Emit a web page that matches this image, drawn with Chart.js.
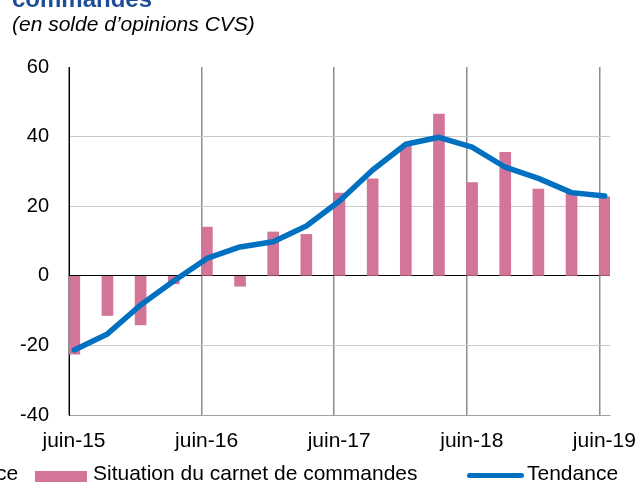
<!DOCTYPE html>
<html>
<head>
<meta charset="utf-8">
<script src="https://cdn.jsdelivr.net/npm/chart.js@4"></script>
<style>
  html, body { margin: 0; padding: 0; background: #fff; }
  #wrap { position: relative; width: 638px; height: 484px; overflow: hidden; font-family: "Liberation Sans", Arial, sans-serif; }
  #c { position: absolute; left: 0; top: 0; }
  .t { position: absolute; white-space: nowrap; color: #000; }
</style>
</head>
<body>
<div id="wrap">
  <canvas id="c" width="638" height="484"></canvas>
  <div class="t" style="left:12px; top:-13px; font-size:24px; line-height:24px; font-weight:bold; color:#1F4E99;">commandes</div>
  <div class="t" style="left:12px; top:13px; font-size:21px; line-height:21px; font-style:italic;">(en solde d’opinions CVS)</div>
  <div class="t" style="left:-4px; top:462px; font-size:21px; line-height:21px;">ce</div>
  <div style="position:absolute; left:35px; top:471px; width:52px; height:11px; background:#D37499;"></div>
  <div class="t" style="left:93px; top:462px; font-size:21px; line-height:21px;">Situation du carnet de commandes</div>
  <div style="position:absolute; left:467px; top:473px; width:57px; height:5px; background:#0070C0; border-radius:3px;"></div>
  <div class="t" style="left:527px; top:462px; font-size:21px; line-height:21px;">Tendance</div>
</div>
<script>
// Quarterly data, juin-15 .. juin-19
const quarters = ["juin-15","sept-15","déc-15","mars-16","juin-16","sept-16","déc-16","mars-17","juin-17","sept-17","déc-17","mars-18","juin-18","sept-18","déc-18","mars-19","juin-19"];
const carnetCommandes = [-22.5, -11.4, -14.1, -2.3, 14.0, -3.0, 12.6, 11.9, 23.8, 27.9, 37.2, 46.5, 26.8, 35.5, 24.9, 24.0, 22.7];
const tendance = [-21.3, -16.7, -8.4, -1.5, 5.0, 8.3, 9.8, 14.3, 21.5, 30.4, 37.8, 39.8, 37.0, 31.2, 28.0, 23.9, 22.9];
const xTickLabels = ["juin-15","juin-16","juin-17","juin-18","juin-19"];
const xTickIndex = [0, 4, 8, 12, 16];
const yTicks = [-40, -20, 0, 20, 40, 60];

const GRID_SHIFT = 0.16; // gridlines sit half a bar to the left of category centres

new Chart(document.getElementById('c'), {
  data: {
    datasets: [
      {
        type: 'line',
        label: 'Tendance',
        data: tendance.map((v, i) => ({ x: i, y: v })),
        borderColor: '#0070C0',
        borderWidth: 5.5,
        pointRadius: 0,
        tension: 0,
        borderCapStyle: 'round',
        borderJoinStyle: 'round',
        order: 0
      },
      {
        type: 'bar',
        label: 'Situation du carnet de commandes',
        data: carnetCommandes.map((v, i) => ({ x: i, y: v })),
        backgroundColor: '#D37499',
        barThickness: 11,
        order: 1
      }
    ]
  },
  options: {
    responsive: false,
    animation: false,
    events: [],
    layout: { padding: { top: 67, right: 28, left: 0, bottom: 0 } },
    plugins: { legend: { display: false }, title: { display: false }, tooltip: { enabled: false } },
    scales: {
      x: {
        type: 'linear',
        position: 'bottom',
        offset: false,
        min: -GRID_SHIFT,
        max: 16 + GRID_SHIFT,
        afterBuildTicks: (s) => { s.ticks = xTickIndex.map(i => ({ value: i - GRID_SHIFT })); },
        afterFit: (s) => { s.height = 69; s.paddingLeft = 0; s.paddingRight = 0; },
        ticks: {
          callback: (v, idx) => xTickLabels[idx],
          font: { family: 'Liberation Sans', size: 21 },
          color: '#000',
          padding: 14,
          labelOffset: 5,
          maxRotation: 0,
          autoSkip: false
        },
        grid: { offset: false, color: '#8C8C8C', lineWidth: 1.5, drawTicks: false },
        border: { color: '#A0A0A0', width: 1 }
      },
      y: {
        min: -40,
        max: 60,
        afterBuildTicks: (s) => { s.ticks = yTicks.map(v => ({ value: v })); },
        afterFit: (s) => { s.width = 69; },
        ticks: {
          font: { family: 'Liberation Sans', size: 20 },
          color: '#000',
          padding: 20
        },
        grid: {
          drawTicks: false,
          color: (ctx) => {
            const v = ctx.tick && ctx.tick.value;
            if (v === 0) return '#000000';
            if (v === 60) return 'rgba(0,0,0,0)';
            if (v === -40) return '#A0A0A0';
            return '#C8C8C8';
          },
          lineWidth: 1
        },
        border: { color: '#000', width: 1 }
      }
    }
  }
});
</script>
</body>
</html>
